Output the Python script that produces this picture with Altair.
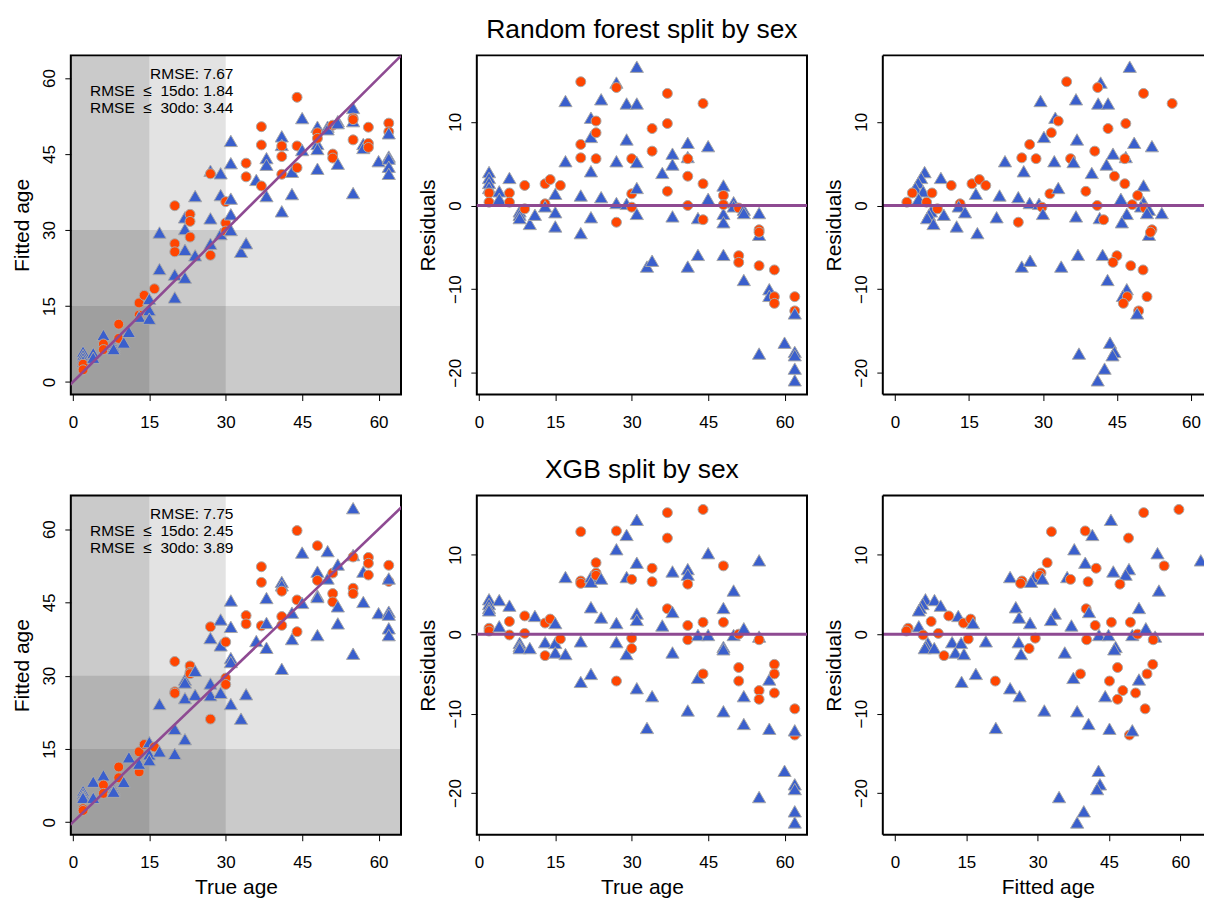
import altair as alt
import pandas as pd

# One entry per subject: true age, sex, and the residual (fitted - true) of each model.
true_age = [
    2, 2, 2, 2, 2, 2, 4, 4, 6, 6, 6,
    8, 8, 8, 9, 9, 10, 11,
    13, 13, 13, 14, 15, 15, 15, 16, 17, 17,
    20, 20, 20, 20, 20, 22, 22, 22, 22, 23, 23, 23, 24, 24,
    27, 27, 27, 27, 27, 29, 29, 29, 30, 30, 30, 31, 31, 31, 31, 31,
    33, 34, 34, 34, 36, 37, 37, 37, 38, 38, 38,
    41, 41, 41, 41, 41, 41, 43, 43, 44, 44, 44, 45, 45,
    48, 48, 48, 48, 48, 48, 50, 50, 51, 51, 51, 52, 52, 52,
    55, 55, 55, 55, 55, 55, 57, 57, 58, 58, 58, 60, 62, 62, 62, 62, 62, 62, 62,
]
sex = [
    "M", "M", "M", "M", "F", "F", "M", "M", "M", "F", "F",
    "M", "M", "M", "F", "F", "M", "M",
    "F", "F", "M", "F", "M", "M", "M", "F", "M", "M",
    "F", "F", "F", "M", "M", "M", "M", "M", "M", "F", "F", "F", "M", "M",
    "M", "M", "M", "F", "F", "M", "M", "M", "F", "F", "F", "M", "M", "M", "M", "M",
    "M", "F", "F", "M", "M", "F", "F", "F", "M", "M", "M",
    "M", "M", "M", "F", "F", "F", "M", "M", "F", "F", "F", "M", "M",
    "M", "M", "M", "M", "F", "F", "M", "M", "F", "F", "F", "M", "M", "M",
    "M", "M", "M", "F", "F", "F", "M", "M", "F", "F", "F", "M", "F", "F", "M", "M", "M", "M", "M",
]
rf_resid = [
    4.0, 3.3, 2.7, 2.1, 1.5, 0.4, 1.7, 0.8, 3.3, 1.5, 0.4,
    -0.7, -1.1, -1.5, 2.4, -0.4, -2.2, -1.1,
    2.6, 0.2, -0.1, 3.1, 1.4, -0.8, -2.5, 2.4, 12.5, 5.3,
    14.8, 7.3, 5.7, 1.2, -3.3, 10.5, 8.2, 4.1, -1.4, 10.1, 8.7, 5.6, 12.7, 1.0,
    14.7, 5.3, 0.3, 14.1, -2.0, 12.2, 7.9, 0.2, 5.6, 1.4, -0.2, 16.6, 12.2, 5.2, 2.1, -1.0,
    -7.3, 9.2, 6.5, -6.6, 3.9, 13.4, 9.8, 1.7, 6.2, 4.9, -1.3,
    7.5, 5.8, -7.3, 5.6, 3.5, 0.0, -1.5, -5.9, 12.2, 2.6, -1.7, 7.1, 0.8,
    2.4, -1.0, -2.0, -5.9, 1.2, 0.1, 0.4, -0.1, -0.3, -6.0, -6.8, -0.5, -0.9, -8.9,
    -0.9, -3.5, -17.7, -2.9, -3.2, -7.2, -10.0, -10.8, -7.7, -10.9, -11.7, -16.4,
    -10.9, -12.6, -12.9, -17.5, -17.9, -19.5, -20.9,
]
xgb_resid = [
    4.4, 3.8, 3.3, 3.0, 0.75, 0.4, 4.3, 1.0, 3.6, 1.6, -0.1,
    -1.1, -1.5, -1.75, 2.3, 0.1, -1.75, 2.3,
    1.4, -2.7, -1.0, 1.9, 1.4, -1.1, -2.3, -0.6, 7.2, -2.5,
    12.9, 6.7, 6.4, -0.9, -6.0, 7.2, 6.6, 3.4, -5.0, 9.0, 7.7, 7.4, 7.0, 2.1,
    10.7, 1.4, -1.0, 13.0, -5.9, 12.5, 7.2, -2.5, 6.9, -0.5, -1.8, 14.4, 9.0, 2.6, 1.8, -6.8,
    -11.8, 8.3, 6.6, -7.8, 1.1, 15.3, 12.1, 3.2, 7.9, 2.8, -2.3,
    8.2, 7.5, -9.6, 6.3, 1.1, -0.7, -0.1, -5.5, 15.7, 1.5, -5.0, 10.2, -0.1,
    3.3, -1.6, -1.9, -9.7, 8.6, 1.5, 5.5, -0.1, 0.0, -4.2, -5.9, 0.75, -7.8, -11.3,
    9.3, -0.3, -20.5, -0.7, -7.1, -8.2, -5.7, -11.9, -3.8, -5.0, -7.4, -17.2,
    -9.4, -12.7, -12.1, -18.9, -19.5, -22.3, -23.7,
]

rf_stats = ["RMSE: 7.67", "RMSE\u00a0\u00a0\u2264\u00a0\u00a015do: 1.84", "RMSE\u00a0\u00a0\u2264\u00a0\u00a030do: 3.44"]
xgb_stats = ["RMSE: 7.75", "RMSE\u00a0\u00a0\u2264\u00a0\u00a015do: 2.45", "RMSE\u00a0\u00a0\u2264\u00a0\u00a030do: 3.89"]
age_cutoffs = [15, 30]

FONT = "Liberation Sans"
ORANGE = "#FF4500"
BLUE = "#3A5FCD"
EDGE = "#A8A8A8"
PURPLE = "#8E4A92"
W, H = 331, 340          # panel size
W_RIGHT = 322            # right-hand column runs off the page edge
AGE_TICKS = [0, 15, 30, 45, 60]
RES_TICKS = [-20, -10, 0, 10]

subjects = pd.DataFrame(
    {"true_age": true_age, "sex": sex, "rf": rf_resid, "xgb": xgb_resid}
)

SHAPE = alt.Scale(domain=["F", "M"], range=["circle", "triangle-up"])
FILL = alt.Scale(domain=["F", "M"], range=[ORANGE, BLUE])
SIZE = alt.Scale(domain=["F", "M"], range=[100, 175])


def x_axis(title):
    kw = dict(values=AGE_TICKS, labelFlush=False, labelBaseline="alphabetic",
              labelPadding=27)
    if title:
        kw.update(title=title, titleX=W / 2, titleY=58.6, titleAlign="center",
                  titleBaseline="alphabetic")
    else:
        kw["title"] = None
    return alt.Axis(**kw)


def y_axis(title, ticks):
    return alt.Axis(values=ticks, title=title, labelAngle=270, labelAlign="center",
                    labelBaseline="alphabetic", labelPadding=10, labelFlush=False,
                    titleX=-42, titleY=H / 2, titleAngle=270, titleAlign="center",
                    titleBaseline="alphabetic")


def panel(model, xfield, yfield, xdom, ydom, xtitle, ytitle, yticks,
          stats=None, title=None, width=W, open_right=False):
    xs = alt.Scale(domain=xdom, nice=False, zero=False)
    ys = alt.Scale(domain=ydom, nice=False, zero=False)
    layers = []
    if stats is not None:
        # grey bands: ages below each cutoff, on both axes
        far = 1000
        bands = pd.DataFrame({
            "x1": [-far] * 4,
            "x2": age_cutoffs + [far, far],
            "y1": [-far] * 4,
            "y2": [far, far] + age_cutoffs,
        })
        layers.append(
            alt.Chart(bands).mark_rect(color="black", opacity=0.11, clip=True).encode(
                x=alt.X("x1:Q", scale=xs, axis=x_axis(xtitle)), x2="x2:Q",
                y=alt.Y("y1:Q", scale=ys, axis=y_axis(ytitle, yticks)), y2="y2:Q",
            )
        )
    pts = (
        alt.Chart(subjects)
        .transform_calculate(resid=f"datum.{model}", fitted=f"datum.true_age + datum.{model}")
        .mark_point(filled=True, opacity=1, fillOpacity=1, stroke=EDGE, strokeWidth=1, clip=True)
        .encode(
            x=alt.X(f"{xfield}:Q", scale=xs, axis=x_axis(xtitle)),
            y=alt.Y(f"{yfield}:Q", scale=ys, axis=y_axis(ytitle, yticks)),
            shape=alt.Shape("sex:N", scale=SHAPE, legend=None),
            fill=alt.Fill("sex:N", scale=FILL, legend=None),
            size=alt.Size("sex:N", scale=SIZE, legend=None),
        )
    )
    layers.append(pts)
    one = pd.DataFrame({"k": [0]})
    if stats is not None:
        diag = pd.DataFrame({"a": [-10, 80]})
        layers.append(
            alt.Chart(diag).mark_line(color=PURPLE, strokeWidth=2.6, clip=True).encode(
                x=alt.X("a:Q", scale=xs), y=alt.Y("a:Q", scale=ys)
            )
        )
        for i, line in enumerate(stats):
            layers.append(
                alt.Chart(pd.DataFrame({"label": [line]})).mark_text(
                    align="right", baseline="alphabetic", fontSize=15.5, font=FONT, color="black"
                ).encode(x=alt.value(163), y=alt.value(23.3 + 17 * i), text="label:N")
            )
    else:
        layers.append(
            alt.Chart(pd.DataFrame({"zero": [0]})).mark_rule(color=PURPLE, strokeWidth=3).encode(
                y=alt.Y("zero:Q", scale=ys)
            )
        )
    if title:
        layers.append(
            alt.Chart(pd.DataFrame({"label": [title]})).mark_text(
                align="center", baseline="alphabetic", fontSize=26.5, font=FONT, color="black"
            ).encode(x=alt.value(W / 2), y=alt.value(-17.3), text="label:N")
        )
    if open_right:
        # frame on three sides only; the right side lies past the page edge
        for enc in (dict(y=alt.value(0)), dict(y=alt.value(H)), dict(x=alt.value(0))):
            layers.append(alt.Chart(one).mark_rule(color="black", strokeWidth=2).encode(**enc))
    ch = alt.layer(*layers).properties(width=width, height=H)
    if open_right:
        ch = ch.properties(view=alt.ViewBackground(stroke="transparent"))
    return ch


p1 = panel("rf", "true_age", "fitted", [-0.4, 64.4], [-2.48, 64.48], None, "Fitted age", AGE_TICKS,
           stats=rf_stats)
p2 = panel("rf", "true_age", "resid", [-0.4, 64.4], [-22.6, 17.95], None, "Residuals", RES_TICKS,
           title="Random forest split by sex")
p3 = panel("rf", "fitted", "resid", [-2.48, 62.66], [-22.6, 17.95], None, "Residuals", RES_TICKS,
           width=W_RIGHT, open_right=True)
p4 = panel("xgb", "true_age", "fitted", [-0.4, 64.4], [-2.57, 66.87], "True age", "Fitted age", AGE_TICKS,
           stats=xgb_stats)
p5 = panel("xgb", "true_age", "resid", [-0.4, 64.4], [-25.25, 17.45], "True age", "Residuals", RES_TICKS,
           title="XGB split by sex")
p6 = panel("xgb", "fitted", "resid", [-2.57, 64.98], [-25.25, 17.45], "Fitted age", "Residuals", RES_TICKS,
           width=W_RIGHT, open_right=True)

chart = (
    alt.concat(p1, p2, p3, p4, p5, p6, columns=3, spacing={"row": 101.3, "column": 76},
               bounds="flush", align="none")
    .properties(padding={"left": 11, "top": 14.4, "right": 0, "bottom": 0}, background="white")
    .configure_view(stroke="black", strokeWidth=2)
    .configure_axis(
        domain=False, grid=False, ticks=True, tickColor="black", tickSize=6, tickWidth=1,
        labelFont=FONT, labelFontSize=17, labelColor="black",
        titleFont=FONT, titleFontSize=21, titleFontWeight="normal", titleColor="black",
    )
)

chart.save("out.html", embed_options={"renderer": "svg", "actions": False})
